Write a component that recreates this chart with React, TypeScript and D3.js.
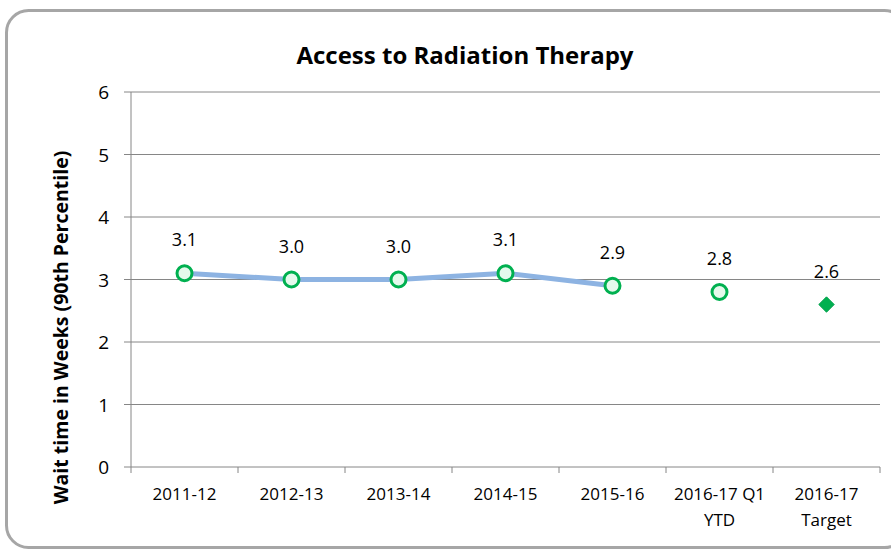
import React from "react";
import * as d3 from "d3";

const categories = ["2011-12", "2012-13", "2013-14", "2014-15", "2015-16", "2016-17 Q1|YTD", "2016-17|Target"];
const lineValues = [3.1, 3.0, 3.0, 3.1, 2.9];
const ytdValue = 2.8;
const targetValue = 2.6;
const yTicks = [0, 1, 2, 3, 4, 5, 6];

const W = 891, H = 550;
const left = 131, right = 880, top = 92, bottom = 467;
const font = "'Open Sans', 'Noto Sans', sans-serif";

export default function App() {
  const x = d3.scaleBand().domain(categories).range([left, right]);
  const y = d3.scaleLinear().domain([0, 6]).range([bottom, top]);
  const cx = (i: number) => (x(categories[i]) as number) + x.bandwidth() / 2;
  const line = d3.line<number>().x((_, i) => cx(i)).y((d) => y(d));
  const markers = [...lineValues, ytdValue];
  const tIdx = categories.length - 1;
  const diamond = d3.symbol().type(d3.symbolDiamond2).size(150)();
  return (
    <svg width={W} height={H} style={{ position: "absolute", left: 0, top: 0 }}>
      <rect x={0} y={0} width={W} height={H} fill="#fff" />
      <rect x={6.5} y={10.5} width={900} height={537} rx={22} fill="#fff" stroke="#a6a6a6" strokeWidth={3} />
      <text x={465} y={64} textAnchor="middle" fontFamily={font} fontWeight="bold" fontSize={24} fill="#000">
        Access to Radiation Therapy
      </text>
      {yTicks.map((t) => (
        <g key={t}>
          <line x1={124} x2={right} y1={y(t)} y2={y(t)} stroke="#868686" strokeWidth={1} />
          <text x={109} y={y(t) + 7} textAnchor="end" fontFamily={font} fontSize={19} fill="#000">{t}</text>
        </g>
      ))}
      <line x1={left} x2={left} y1={top} y2={bottom + 6} stroke="#868686" strokeWidth={1} />
      {categories.map((c) => (
        <line key={c} x1={(x(c) as number) + x.bandwidth()} x2={(x(c) as number) + x.bandwidth()} y1={bottom} y2={bottom + 6} stroke="#868686" />
      ))}
      {categories.map((c, i) => (
        <text key={c} x={cx(i)} y={500} textAnchor="middle" fontFamily={font} fontSize={17} fill="#000">
          {c.split("|").map((s, k) => (
            <tspan key={k} x={cx(i)} dy={k === 0 ? 0 : 26}>{s}</tspan>
          ))}
        </text>
      ))}
      <text transform={`translate(68,${(top + bottom) / 2 + 48}) rotate(-90)`} textAnchor="middle" fontFamily={font} fontWeight="bold" fontSize={19.5} fill="#000">
        Wait time in Weeks (90th Percentile)
      </text>
      <path d={line(lineValues) || ""} fill="none" stroke="#8db3e2" strokeWidth={5} strokeLinejoin="round" />
      {markers.map((v, i) => (
        <g key={i}>
          <circle cx={cx(i)} cy={y(v)} r={7.5} fill="#e5f9ec" stroke="#00b050" strokeWidth={3} />
          <text x={cx(i)} y={y(v) - 27} textAnchor="middle" fontFamily={font} fontSize={18} fill="#000">{v.toFixed(1)}</text>
        </g>
      ))}
      <path d={diamond || ""} transform={`translate(${cx(tIdx)},${y(targetValue)})`} fill="#00b050" stroke="#00a04a" strokeWidth={1} />
      <text x={cx(tIdx)} y={y(targetValue) - 27} textAnchor="middle" fontFamily={font} fontSize={18} fill="#000">{targetValue.toFixed(1)}</text>
    </svg>
  );
}
